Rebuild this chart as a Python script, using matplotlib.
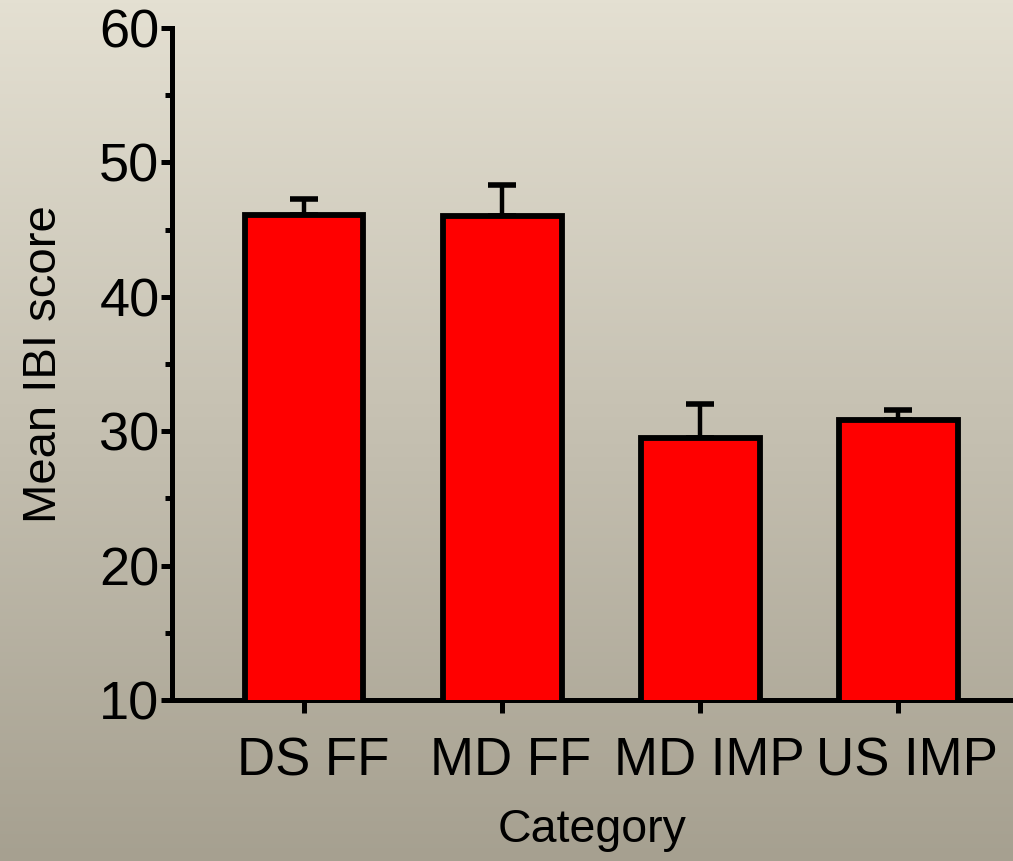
import numpy as np
import matplotlib.pyplot as plt
import matplotlib.transforms as mtransforms

categories = ['DS FF', 'MD FF', 'MD IMP', 'US IMP']
means = [46.1, 46.0, 29.5, 30.8]
sem = [1.2, 2.3, 2.5, 0.8]

plt.rcParams['font.family'] = ['Liberation Sans', 'DejaVu Sans']

fig = plt.figure(figsize=(10.13, 8.61), dpi=100)

# gradient background
bg = fig.add_axes([0, 0, 1, 1], zorder=-10)
top = np.array([228, 224, 210]) / 255
bot = np.array([166, 160, 144]) / 255
t = np.linspace(0, 1, 256)[:, None]
grad = top[None, :] * (1 - t) + bot[None, :] * t
bg.imshow(grad[:, None, :], aspect='auto', extent=[0, 1, 0, 1])
bg.set_axis_off()

ax = fig.add_axes([0.1698, 0.187, 0.8302, 0.7805])
ax.patch.set_alpha(0)

x = np.arange(len(categories))
ax.bar(x, means, width=0.6, bottom=0, color='#ff0000', edgecolor='black',
       linewidth=4.2, zorder=3)
ax.errorbar(x, means, yerr=[np.zeros(len(sem)), sem], fmt='none', ecolor='black',
            elinewidth=3.2, capsize=10, capthick=4, zorder=2)

ax.set_ylim(10, 60)
ax.set_xlim(-0.667, 3.58)
ax.set_yticks([10, 20, 30, 40, 50, 60])
ax.set_yticks([15, 25, 35, 45, 55], minor=True)
ax.set_xticks(x)
ax.set_xticklabels(categories)

for s in ['top', 'right']:
    ax.spines[s].set_visible(False)
for s in ['left', 'bottom']:
    ax.spines[s].set_linewidth(3.6)

ax.tick_params(axis='y', which='major', length=8, width=3.6, labelsize=39, pad=1)
ax.tick_params(axis='y', which='minor', length=5, width=3.6)
ax.tick_params(axis='x', length=9, width=3.6, labelsize=38, pad=17)

# labels sit a little right of the ticks in the original
shift = mtransforms.ScaledTranslation(9 / 100, 0, fig.dpi_scale_trans)
for lab in ax.get_xticklabels():
    lab.set_transform(lab.get_transform() + shift)

ax.set_ylabel('Mean IBI score', fontsize=34, labelpad=24)
ax.set_xlabel('Category', fontsize=33.5, labelpad=16)

fig.savefig('out.png', dpi=100)
